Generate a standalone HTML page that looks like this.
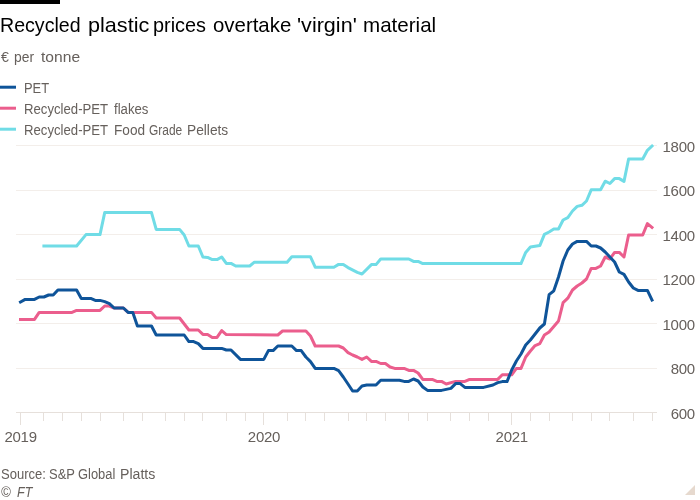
<!DOCTYPE html>
<html><head><meta charset="utf-8"><title>chart</title>
<style>
html,body{margin:0;padding:0;background:#fff;}
body{width:700px;height:500px;position:relative;overflow:hidden;font-family:"Liberation Sans",sans-serif;}
.t{position:absolute;transform-origin:0 0;white-space:nowrap;line-height:1;margin:0;padding:0;}
#title{left:0.3px;top:13.6px;font-size:20.4px;letter-spacing:0.06px;color:#000;}
#sub{left:0.5px;top:48.8px;font-size:15.2px;letter-spacing:0.2px;color:#66605c;}
.leg{left:23.8px;font-size:14px;letter-spacing:-0.3px;color:#66605c;}
.wt{font-size:21px;color:#000;}
.ws{font-size:15.2px;color:#66605c;}
.wl{font-size:14px;color:#66605c;}
.wf{font-size:14px;color:#66605c;font-style:italic;}
.xl{font-size:15px;letter-spacing:-0.25px;color:#66605c;}
.yl{font-size:15px;letter-spacing:-0.25px;color:#66605c;right:5.1px;text-align:right;}
#src{left:0px;top:467.3px;font-size:14px;letter-spacing:-0.35px;color:#66605c;}
#ft{left:0.5px;top:485.3px;font-size:14px;color:#66605c;font-style:italic;}
svg{position:absolute;left:0;top:0;}
#txt{position:absolute;left:0;top:0;width:700px;height:500px;will-change:transform;}
</style></head><body>
<svg width="700" height="500" viewBox="0 0 700 500">
<rect x="0" y="0" width="60" height="4" fill="#000"/>
<g fill="#f3eeea"><rect x="16" y="145" width="641" height="1"/><rect x="16" y="190" width="641" height="1"/><rect x="16" y="234" width="641" height="1"/><rect x="16" y="279" width="641" height="1"/><rect x="16" y="323" width="641" height="1"/><rect x="16" y="368" width="641" height="1"/></g>
<g fill="#e6e0db"><rect x="16" y="412" width="641" height="1"/><rect x="43" y="413" width="1" height="8"/><rect x="62" y="413" width="1" height="8"/><rect x="81" y="413" width="1" height="8"/><rect x="100" y="413" width="1" height="8"/><rect x="123" y="413" width="1" height="8"/><rect x="142" y="413" width="1" height="8"/><rect x="165" y="413" width="1" height="8"/><rect x="184" y="413" width="1" height="8"/><rect x="202" y="413" width="1" height="8"/><rect x="226" y="413" width="1" height="8"/><rect x="245" y="413" width="1" height="8"/><rect x="287" y="413" width="1" height="8"/><rect x="305" y="413" width="1" height="8"/><rect x="324" y="413" width="1" height="8"/><rect x="348" y="413" width="1" height="8"/><rect x="366" y="413" width="1" height="8"/><rect x="385" y="413" width="1" height="8"/><rect x="408" y="413" width="1" height="8"/><rect x="427" y="413" width="1" height="8"/><rect x="450" y="413" width="1" height="8"/><rect x="469" y="413" width="1" height="8"/><rect x="488" y="413" width="1" height="8"/><rect x="530" y="413" width="1" height="8"/><rect x="549" y="413" width="1" height="8"/><rect x="572" y="413" width="1" height="8"/><rect x="591" y="413" width="1" height="8"/><rect x="609" y="413" width="1" height="8"/><rect x="633" y="413" width="1" height="8"/><rect x="652" y="413" width="1" height="8"/><rect x="20" y="413" width="1" height="12"/><rect x="263" y="413" width="1" height="12"/><rect x="511" y="413" width="1" height="12"/></g>
<g fill="none" stroke-width="3" stroke-linejoin="round" stroke-linecap="square">
<polyline stroke="#70dce6" points="43.9,246.0 76.6,246.0 86.0,234.6 100.0,234.6 104.7,212.6 151.5,212.6 156.2,229.4 179.6,229.4 184.2,235.0 188.9,246.0 198.3,246.0 202.9,257.0 207.6,257.4 212.3,259.6 217.0,259.6 221.7,257.0 226.3,263.4 231.0,263.4 235.7,266.0 249.7,266.0 254.4,262.2 287.1,262.2 291.8,256.8 310.5,256.8 315.2,267.2 333.9,267.2 338.6,264.4 343.3,264.4 348.0,267.6 357.3,272.4 362.0,274.0 371.4,264.6 376.0,264.6 380.7,259.0 408.8,259.0 413.5,261.4 418.1,261.4 422.8,263.6 521.0,263.6 525.7,252.4 530.4,247.0 539.8,245.6 544.4,234.4 549.1,232.0 553.8,229.0 558.5,229.0 563.1,220.0 567.8,217.6 572.5,211.0 577.2,206.4 581.9,205.3 586.5,201.0 591.2,189.8 600.6,189.8 605.2,181.2 609.9,183.5 614.6,178.6 619.3,178.6 624.0,181.4 628.6,159.0 642.7,159.0 647.4,150.3 652.0,146.0"/>
<polyline stroke="#eb5e8d" points="20.5,319.4 34.5,319.4 39.2,312.4 72.0,312.4 76.6,310.4 100.0,310.4 104.7,306.0 109.4,306.0 114.1,308.0 123.4,308.0 128.1,312.4 151.5,312.4 156.2,318.0 179.6,318.0 188.9,330.0 198.3,330.0 202.9,334.4 207.6,334.4 212.3,337.4 217.0,337.4 221.7,330.6 226.3,334.6 277.8,335.0 282.5,331.0 305.9,331.0 310.5,336.0 315.2,346.0 338.6,346.0 343.3,348.0 348.0,352.6 352.6,355.0 357.3,357.0 362.0,359.4 366.7,357.0 371.4,361.4 376.0,361.4 380.7,363.5 385.4,363.5 390.1,367.0 394.7,368.4 404.1,368.4 408.8,370.4 413.5,370.4 418.1,373.0 422.8,379.4 432.2,379.4 436.8,381.4 441.5,381.4 446.2,384.0 455.6,381.4 464.9,381.4 469.6,379.4 497.7,379.4 502.3,374.8 507.0,374.8 511.7,374.8 516.4,368.4 521.0,368.4 525.7,357.0 530.4,351.0 535.1,345.6 539.8,343.6 544.4,335.0 549.1,332.0 553.8,326.6 558.5,321.0 563.1,302.7 567.8,298.2 572.5,290.0 577.2,286.0 581.9,283.0 586.5,279.0 591.2,268.4 595.9,268.4 600.6,266.0 605.2,257.0 609.9,259.0 614.6,252.4 619.3,252.4 624.0,257.0 628.6,235.0 642.7,235.0 647.4,223.6 652.0,227.4"/>
<polyline stroke="#0f5499" points="20.5,302.0 25.2,299.4 34.5,299.4 39.2,297.0 43.9,297.0 48.6,295.0 53.2,295.0 57.9,290.0 76.6,290.0 81.3,298.4 90.7,298.4 95.3,300.4 100.0,300.4 104.7,301.6 109.4,303.6 114.1,308.0 123.4,308.0 128.1,312.4 132.8,312.4 137.4,326.0 151.5,326.0 156.2,335.0 184.2,335.0 188.9,341.6 193.6,341.6 198.3,343.6 202.9,348.4 221.7,348.4 226.3,350.0 231.0,350.0 240.4,359.4 263.8,359.4 268.4,350.6 273.1,350.6 277.8,346.0 291.8,346.0 296.5,350.6 301.2,350.6 305.9,357.0 310.5,361.6 315.2,368.4 333.9,368.4 338.6,370.6 343.3,377.0 348.0,384.0 352.6,391.0 357.3,391.0 362.0,386.0 366.7,385.0 376.0,385.0 380.7,380.2 399.4,380.2 404.1,381.4 408.8,381.4 413.5,379.0 418.1,381.0 422.8,387.0 427.5,390.4 441.5,390.4 450.9,388.4 455.6,383.6 460.2,383.6 464.9,387.4 483.6,387.4 493.0,385.0 497.7,382.6 502.3,381.6 507.0,381.6 511.7,370.0 516.4,361.0 521.0,354.0 525.7,345.0 530.4,340.0 535.1,334.0 539.8,328.0 544.4,324.0 549.1,294.7 553.8,290.8 558.5,277.0 563.1,261.0 567.8,250.0 572.5,244.0 577.2,241.4 586.5,241.4 591.2,246.0 595.9,246.0 600.6,248.0 605.2,252.0 609.9,257.0 614.6,262.0 619.3,272.0 624.0,274.4 628.6,282.0 633.3,288.0 638.0,290.4 647.4,290.4 652.0,300.0"/>
</g>
<g stroke-width="3" fill="none">
<line x1="0" x2="16" y1="87.2" y2="87.2" stroke="#0f5499"/>
<line x1="0" x2="16" y1="108.2" y2="108.2" stroke="#eb5e8d"/>
<line x1="0" x2="16" y1="129.2" y2="129.2" stroke="#70dce6"/>
</g>
<polygon points="685,495 695,495 695,485" fill="#e6d9ce"/>
</svg>
<div id="txt">
<span class="t wt" style="left:0.27px;top:14.3px;transform:scaleX(0.9328)">Recycled</span>
<span class="t wt" style="left:87.87px;top:14.3px;transform:scaleX(1.0289)">plastic</span>
<span class="t wt" style="left:153.05px;top:14.3px;transform:scaleX(0.9465)">prices</span>
<span class="t wt" style="left:212.8px;top:14.3px;transform:scaleX(0.9716)">overtake</span>
<span class="t wt" style="left:297.17px;top:14.3px;transform:scaleX(1.0268)">'virgin'</span>
<span class="t wt" style="left:362.62px;top:14.3px;transform:scaleX(0.9791)">material</span>
<span class="t ws" style="left:0.6px;top:48.8px;transform:scaleX(0.9333)">€</span>
<span class="t ws" style="left:14.0px;top:48.8px;transform:scaleX(0.9135)">per</span>
<span class="t ws" style="left:41.0px;top:48.8px;transform:scaleX(1.0277)">tonne</span>
<span class="t wl" style="left:23.88px;top:81px;transform:scaleX(0.9222)">PET</span>
<span class="t wl" style="left:23.66px;top:102px;transform:scaleX(0.9402)">Recycled-PET</span>
<span class="t wl" style="left:113.8px;top:102px;transform:scaleX(0.9406)">flakes</span>
<span class="t wl" style="left:23.66px;top:123px;transform:scaleX(0.9402)">Recycled-PET</span>
<span class="t wl" style="left:113.73px;top:123px;transform:scaleX(0.9726)">Food</span>
<span class="t wl" style="left:148.6px;top:123px;transform:scaleX(0.8537)">Grade</span>
<span class="t wl" style="left:186.62px;top:123px;transform:scaleX(0.98)">Pellets</span>
<div class="t xl" id="x1" style="left:4.4px;top:429px">2019</div>
<div class="t xl" id="x2" style="left:247.8px;top:429px">2020</div>
<div class="t xl" id="x3" style="left:495.6px;top:429px">2021</div>
<div class="t yl" id="y1" style="top:138.5px">1800</div>
<div class="t yl" id="y2" style="top:183.0px">1600</div>
<div class="t yl" id="y3" style="top:227.5px">1400</div>
<div class="t yl" id="y4" style="top:272.0px">1200</div>
<div class="t yl" id="y5" style="top:316.5px">1000</div>
<div class="t yl" id="y6" style="top:361.0px">800</div>
<div class="t yl" id="y7" style="top:405.5px">600</div>
<span class="t wl" style="left:0.7px;top:467.3px;transform:scaleX(0.9312)">Source:</span>
<span class="t wl" style="left:48.7px;top:467.3px;transform:scaleX(0.925)">S&amp;P</span>
<span class="t wl" style="left:78.2px;top:467.3px;transform:scaleX(0.9217)">Global</span>
<span class="t wl" style="left:119.69px;top:467.3px;transform:scaleX(1.0084)">Platts</span>
<span class="t wf" style="left:1.1px;top:485.3px;transform:scaleX(0.9364)">©</span>
<span class="t wf" style="left:16.5px;top:485.3px;transform:scaleX(0.8948)">FT</span>
</div>
</body></html>
